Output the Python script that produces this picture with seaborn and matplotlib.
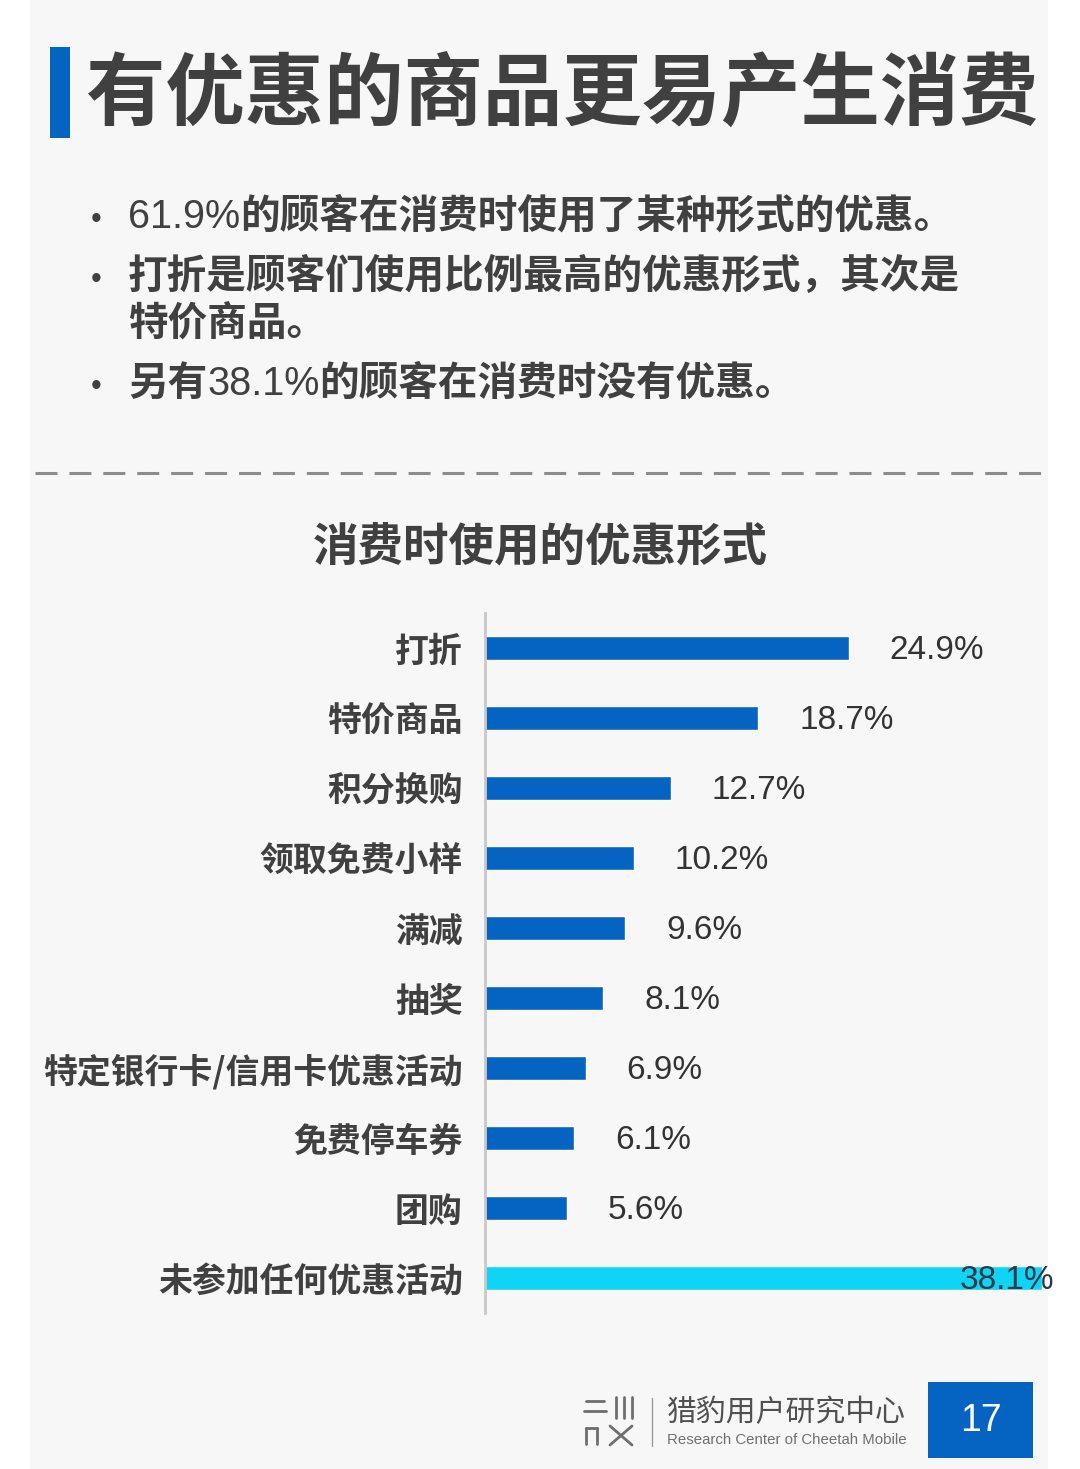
import matplotlib
matplotlib.use("Agg")
import matplotlib.pyplot as plt
import pandas as pd
import seaborn as sns
from matplotlib.lines import Line2D
from matplotlib.patches import Rectangle

categories = ["打折", "特价商品", "积分换购", "领取免费小样", "满减", "抽奖",
              "特定银行卡/信用卡优惠活动", "免费停车券", "团购", "未参加任何优惠活动"]
values = [24.9, 18.7, 12.7, 10.2, 9.6, 8.1, 6.9, 6.1, 5.6, 38.1]
value_labels = ["24.9%", "18.7%", "12.7%", "10.2%", "9.6%", "8.1%", "6.9%",
                "6.1%", "5.6%", "38.1%"]
bar_colors = ["#0563C1"] * 9 + ["#10D4F5"]

title = "有优惠的商品更易产生消费"
chart_title = "消费时使用的优惠形式"
bullets = [
    [("61.9%", "num"), ("的顾客在消费时使用了某种形式的优惠。", "bold")],
    [("打折是顾客们使用比例最高的优惠形式，其次是", "bold")],
    [("特价商品。", "bold")],
    [("另有", "bold"), ("38.1%", "num"), ("的顾客在消费时没有优惠。", "bold")],
]
footer_cn = "猎豹用户研究中心"
footer_en = "Research Center of Cheetah Mobile"
page_no = "17"

W, H = 1080, 1469
TXT = "#404040"
BLUE = "#0563C1"
CJK = ["Noto Sans CJK SC", "DejaVu Sans"]
NUM = ["Liberation Sans", "DejaVu Sans"]


def fx(x):
    return x / W


def fy(y):
    return 1 - y / H


def main():
    sns.set_theme(style="white")
    plt.rcParams["font.family"] = CJK

    fig = plt.figure(figsize=(W / 100, H / 100), dpi=100)
    fig.patch.set_facecolor("white")

    # grey page panel
    fig.patches.append(Rectangle((fx(30), 0), fx(1048) - fx(30), 1,
                                 transform=fig.transFigure,
                                 facecolor="#F7F7F7", edgecolor="none", zorder=-5))
    # title block
    fig.patches.append(Rectangle((fx(50), fy(138)), fx(20), fy(47) - fy(138),
                                 transform=fig.transFigure,
                                 facecolor=BLUE, edgecolor="none", zorder=-4))
    fig.text(fx(86), fy(95), title, fontsize=57.2, fontweight="heavy",
             color=TXT, va="center", ha="left", family=CJK)

    # bullet lines with mixed weights
    renderer = fig.canvas.get_renderer()
    baselines = [228, 288, 335, 395]
    for i, (parts, yb) in enumerate(zip(bullets, baselines)):
        if i != 2:
            fig.text(fx(96), fy(yb), "•", fontsize=22, color=TXT,
                     ha="center", va="baseline", family=NUM)
        x = 128
        for txt, kind in parts:
            if kind == "num":
                t = fig.text(fx(x), fy(yb), txt, fontsize=28.5, color=TXT,
                             ha="left", va="baseline", family=NUM)
            else:
                t = fig.text(fx(x), fy(yb), txt, fontsize=28.5, fontweight="bold",
                             color=TXT, ha="left", va="baseline", family=CJK)
            x = t.get_window_extent(renderer).x1

    # dashed separator
    fig.lines.append(Line2D([fx(35), fx(1046)], [fy(473), fy(473)],
                            transform=fig.transFigure, color="#8C8C8C",
                            lw=2.2, linestyle=(0, (7.2, 3.9)), zorder=-3))

    fig.text(0.5, fy(547), chart_title, fontsize=32.8, fontweight="bold",
             color=TXT, ha="center", va="center", family=CJK)

    # bar chart
    ax = fig.add_axes([fx(485), fy(1313), 583 / W, 700 / H])
    df = pd.DataFrame({"category": categories, "value": values})
    sns.barplot(data=df, x="value", y="category", hue="category",
                palette=dict(zip(categories, bar_colors)), orient="h",
                width=0.34, dodge=False, legend=False, ax=ax, saturation=1)
    ax.set_xlim(0, 39.9)
    ax.set_ylim(9.5, -0.5)
    ax.set_facecolor("none")
    for s in ["top", "right", "bottom"]:
        ax.spines[s].set_visible(False)
    ax.spines["left"].set_color("#C8C8C8")
    ax.spines["left"].set_linewidth(2)
    ax.set_xticks([])
    ax.set_xlabel("")
    ax.set_ylabel("")
    ax.tick_params(axis="y", length=0, pad=16)
    ax.set_yticks(range(len(categories)))
    ax.set_yticklabels(categories, fontsize=24.4, fontweight="bold", color=TXT,
                       family=CJK)

    for i, (v, lab) in enumerate(zip(values, value_labels)):
        if i == len(values) - 1:
            ax.text(v + 0.85, i + 0.03, lab, fontsize=24, color="#2B3A45",
                    ha="right", va="center", family=NUM, clip_on=False)
        else:
            ax.text(v + 2.8, i + 0.03, lab, fontsize=24, color="#333333",
                    ha="left", va="center", family=NUM, clip_on=False)

    # footer logo (simple strokes)
    logo = "#6E6E6E"
    segs = [
        ([586, 604], [1401, 1401]), ([584, 606], [1411, 1411]),
        ([616, 616], [1397, 1418]), ([624, 624], [1397, 1418]),
        ([632, 632], [1397, 1418]),
        ([586, 586], [1428, 1444]), ([586, 597], [1428, 1428]),
        ([597, 597], [1428, 1444]),
        ([610, 632], [1426, 1445]), ([632, 610], [1426, 1445]),
    ]
    for xs, ys in segs:
        fig.lines.append(Line2D([fx(v) for v in xs], [fy(v) for v in ys],
                                transform=fig.transFigure, color=logo, lw=2))
    fig.lines.append(Line2D([fx(652), fx(652)], [fy(1398), fy(1446)],
                            transform=fig.transFigure, color="#9A9A9A", lw=1))
    fig.text(fx(666), fy(1413), footer_cn, fontsize=21.5, color="#505050",
             ha="left", va="center", family=CJK)
    fig.text(fx(667), fy(1440), footer_en, fontsize=10.8, color="#707070",
             ha="left", va="center", family=NUM)

    fig.patches.append(Rectangle((fx(928), fy(1458)), fx(1033) - fx(928),
                                 fy(1382) - fy(1458), transform=fig.transFigure,
                                 facecolor=BLUE, edgecolor="none"))
    fig.text(fx(981), fy(1421), page_no, fontsize=27, color="white",
             ha="center", va="center", family=NUM)

    fig.savefig("out.png", dpi=100, facecolor=fig.get_facecolor())


if __name__ == "__main__":
    main()
